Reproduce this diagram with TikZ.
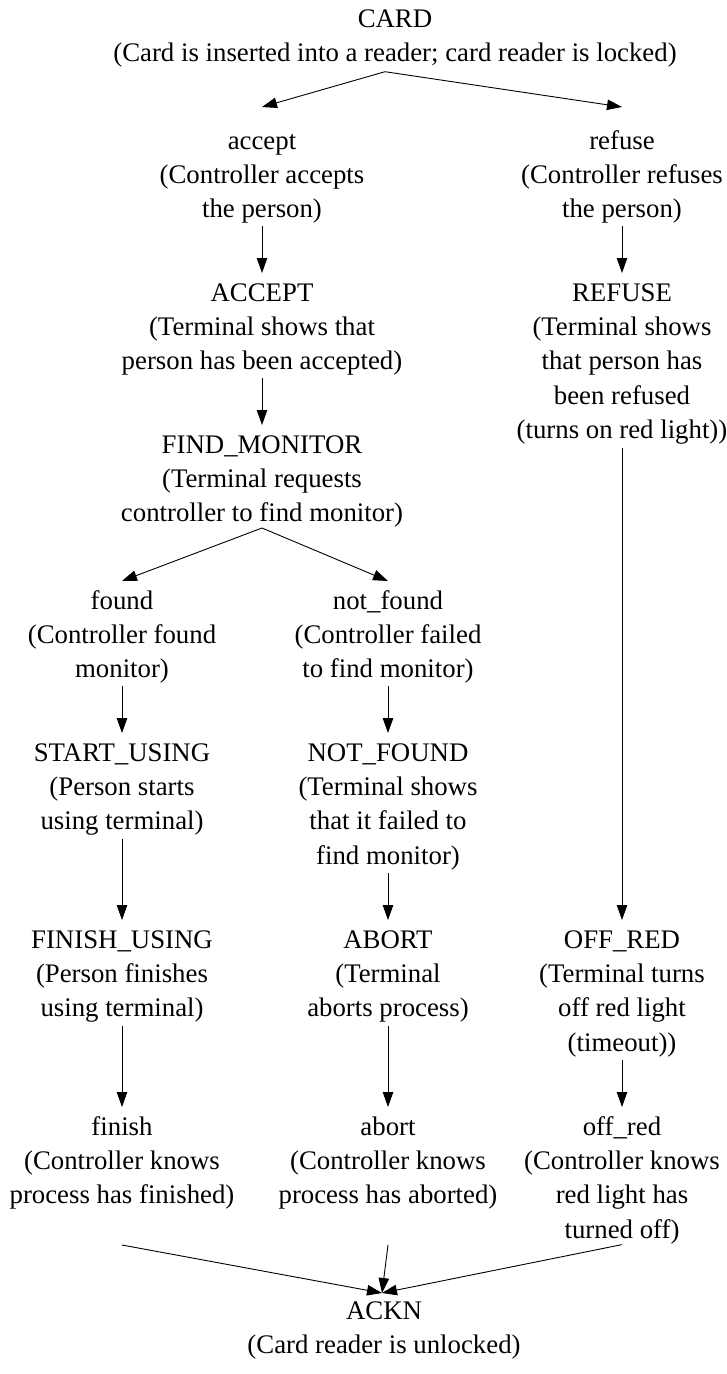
\documentclass[tikz,border=0pt]{standalone}
\usepackage{fontspec}
\setmainfont{Liberation Serif}
\usetikzlibrary{arrows.meta}
\newcommand{\st}{\strut}
\tikzset{
  lbl/.style={align=center, inner sep=0pt, anchor=north,
    font=\fontsize{26.8}{34.3}\selectfont},
  arr/.style={draw=black, line width=0.9pt, -{Triangle[length=15pt,width=10.5pt]}}
}
\begin{document}
\begin{tikzpicture}[x=1pt,y=-1pt]
\path[use as bounding box] (0,0) rectangle (727,1374);
% nodes (north = first baseline - 24)
\node[lbl] (card) at (395,3) {\st CARD\\(Card is inserted into a reader; card reader is locked)\st};
\node[lbl] (accept) at (262,125) {\st accept\\(Controller accepts\\the person)\st};
\node[lbl] (refuse) at (622,125) {\st refuse\\(Controller refuses\\the person)\st};
\node[lbl] (ACCEPT) at (262,277) {\st ACCEPT\\(Terminal shows that\\person has been accepted)\st};
\node[lbl] (REFUSE) at (622,277) {\st REFUSE\\(Terminal shows\\that person has\\been refused\\(turns on red light))\st};
\node[lbl] (FIND) at (262,429) {\st FIND\_MONITOR\\(Terminal requests\\controller to find monitor)\st};
\node[lbl] (found) at (122,585) {\st found\\(Controller found\\monitor)\st};
\node[lbl] (notfound) at (388,585) {\st not\_found\\(Controller failed\\to find monitor)\st};
\node[lbl] (START) at (122,737) {\st START\_USING\\(Person starts\\using terminal)\st};
\node[lbl] (NOTFOUND) at (388,737) {\st NOT\_FOUND\\(Terminal shows\\that it failed to\\find monitor)\st};
\node[lbl] (FINISH) at (122,924) {\st FINISH\_USING\\(Person finishes\\using terminal)\st};
\node[lbl] (ABORT) at (388,924) {\st ABORT\\(Terminal\\aborts process)\st};
\node[lbl] (OFFRED) at (622,924) {\st OFF\_RED\\(Terminal turns\\off red light\\(timeout))\st};
\node[lbl] (finish) at (122,1111) {\st finish\\(Controller knows\\process has finished)\st};
\node[lbl] (abort) at (388,1111) {\st abort\\(Controller knows\\process has aborted)\st};
\node[lbl] (offred) at (622,1111) {\st off\_red\\(Controller knows\\red light has\\turned off)\st};
\node[lbl] (ACKN) at (384,1295) {\st ACKN\\(Card reader is unlocked)\st};
% connectors
\draw[arr] ([xshift=-10pt,yshift=0.3pt]card.south) -- ([yshift=18pt]accept.north);
\draw[arr] ([xshift=-10pt,yshift=0.3pt]card.south) -- ([yshift=18pt]refuse.north);
\draw[arr] ([yshift=2pt]accept.south) -- ([yshift=4pt]ACCEPT.north);
\draw[arr] ([yshift=2pt]refuse.south) -- ([yshift=4pt]REFUSE.north);
\draw[arr] ([yshift=2pt]ACCEPT.south) -- ([yshift=4pt]FIND.north);
\draw[arr] ([yshift=4.3pt]FIND.south) -- ([yshift=4pt]found.north);
\draw[arr] ([yshift=4.3pt]FIND.south) -- ([yshift=4pt]notfound.north);
\draw[arr] ([yshift=2pt]found.south) -- ([yshift=4pt]START.north);
\draw[arr] ([yshift=2pt]notfound.south) -- ([yshift=4pt]NOTFOUND.north);
\draw[arr] ([yshift=1.3pt]START.south) -- ([yshift=4pt]FINISH.north);
\draw[arr] ([yshift=1.3pt]NOTFOUND.south) -- ([yshift=4pt]ABORT.north);
\draw[arr] ([yshift=1.3pt]REFUSE.south) -- ([yshift=4pt]OFFRED.north);
\draw[arr] ([yshift=1.3pt]FINISH.south) -- ([yshift=4pt]finish.north);
\draw[arr] ([yshift=1.3pt]ABORT.south) -- ([yshift=4pt]abort.north);
\draw[arr] ([yshift=1.3pt]OFFRED.south) -- ([yshift=4pt]offred.north);
\draw[arr] ([yshift=-30.7pt]finish.south) -- ([xshift=-2pt,yshift=2pt]ACKN.north);
\draw[arr] ([yshift=-30.7pt]abort.south) -- ([xshift=-2pt,yshift=2pt]ACKN.north);
\draw[arr] ([yshift=4pt]offred.south) -- ([xshift=-2pt,yshift=2pt]ACKN.north);
\end{tikzpicture}
\end{document}
